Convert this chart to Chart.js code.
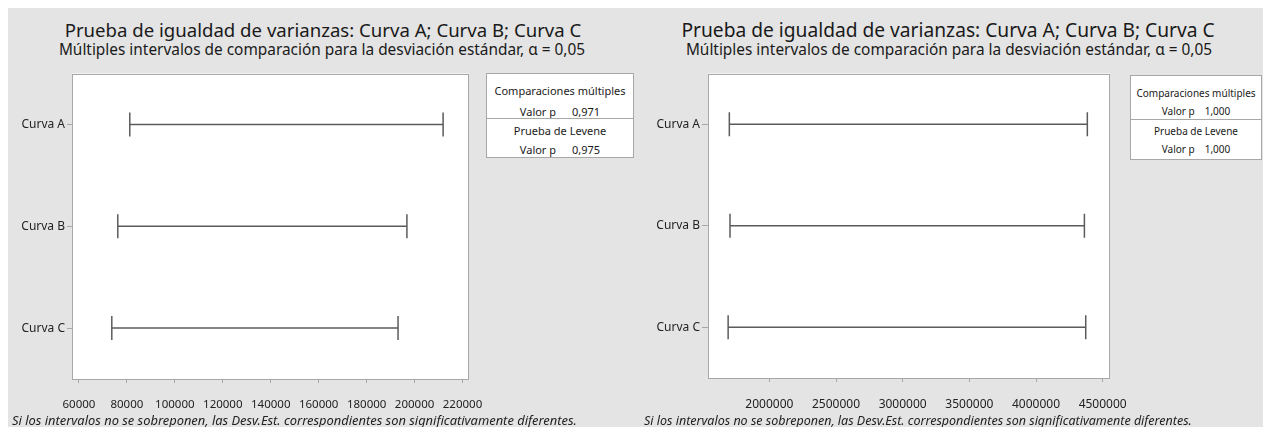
<!DOCTYPE html>
<html>
<head>
<meta charset="utf-8">
<script src="https://cdn.jsdelivr.net/npm/chart.js@4.4.1/dist/chart.umd.min.js"></script>
<style>
  body { margin: 0; background: #fff; font-family: "Noto Sans", sans-serif; color: #1a1a1a; }
  #bg { position: absolute; left: 8px; top: 8px; width: 1255px; height: 419px; background: #e4e4e4; }
  .abs { position: absolute; white-space: nowrap; }
  .title { width: 700px; text-align: center; font-size: 18.6px; line-height: 22px; }
  .subtitle { width: 700px; text-align: center; font-size: 15.4px; line-height: 18px; }
  .pbox { position: absolute; background: #fff; border: 1px solid #a8a8a8; box-sizing: border-box; }
  .pbox .row { position: absolute; left: 0; right: 0; text-align: center; height: 16px; line-height: 16px; }
  .pbox .sep { position: absolute; left: 0; right: 0; height: 0; border-top: 1px solid #a8a8a8; }
  .note { font-style: italic; font-size: 12.9px; line-height: 15px; color: #222; }
</style>
</head>
<body>
<div id="bg"></div>

<div class="abs title" style="left:-27px; top:19px;">Prueba de igualdad de varianzas: Curva A; Curva B; Curva C</div>
<div class="abs subtitle" style="left:-28px; top:41px;">Múltiples intervalos de comparación para la desviación estándar, α = 0,05</div>
<div class="abs title" style="left:598px; top:19px; font-size:19.2px;">Prueba de igualdad de varianzas: Curva A; Curva B; Curva C</div>
<div class="abs subtitle" style="left:599px; top:41px;">Múltiples intervalos de comparación para la desviación estándar, α = 0,05</div>

<canvas id="left" class="abs" width="540" height="360" style="left:8px; top:60px;"></canvas>
<canvas id="right" class="abs" width="560" height="360" style="left:636px; top:60px;"></canvas>

<div class="pbox" style="left:486px; top:73px; width:148px; height:85px; font-size:11px;">
  <div class="row" style="top:9px;">Comparaciones múltiples</div>
  <div class="row" style="top:30px;">Valor p<span style="padding-left:16px;">0,971</span></div>
  <div class="sep" style="top:44px;"></div>
  <div class="row" style="top:49px;">Prueba de Levene</div>
  <div class="row" style="top:68px;">Valor p<span style="padding-left:16px;">0,975</span></div>
</div>

<div class="pbox" style="left:1130px; top:75px; width:132px; height:85px; font-size:10px;">
  <div class="row" style="top:9px;">Comparaciones múltiples</div>
  <div class="row" style="top:27px;">Valor p<span style="padding-left:10px;">1,000</span></div>
  <div class="sep" style="top:43px;"></div>
  <div class="row" style="top:47px;">Prueba de Levene</div>
  <div class="row" style="top:65px;">Valor p<span style="padding-left:10px;">1,000</span></div>
</div>

<div class="abs note" style="left:12px; top:413px;">Si los intervalos no se sobreponen, las Desv.Est. correspondientes son significativamente diferentes.</div>
<div class="abs note" style="left:644px; top:413px; font-size:12.5px;">Si los intervalos no se sobreponen, las Desv.Est. correspondientes son significativamente diferentes.</div>

<script>
const categories = ["Curva A", "Curva B", "Curva C"];

// left chart: confidence intervals for the std. deviation
const leftLower = [81200, 76200, 73700];
const leftUpper = [211900, 196800, 193100];
const leftTicks = [60000, 80000, 100000, 120000, 140000, 160000, 180000, 200000, 220000];

// right chart
const rightLower = [1700000, 1705000, 1691000];
const rightUpper = [4385000, 4363000, 4373000];
const rightTicks = [2000000, 2500000, 3000000, 3500000, 4000000, 4500000];

const lineColor = "#5b5b5b";
const frameColor = "#a8a8a8";

// white plot area with a full box round it
const plotFrame = {
  id: "plotFrame",
  beforeDraw(chart) {
    const { ctx, chartArea: a } = chart;
    ctx.save();
    ctx.fillStyle = "#fff";
    ctx.fillRect(a.left, a.top, a.right - a.left, a.bottom - a.top);
    ctx.restore();
  },
  afterDraw(chart) {
    const { ctx, chartArea: a } = chart;
    ctx.save();
    ctx.strokeStyle = frameColor;
    ctx.lineWidth = 1;
    ctx.strokeRect(Math.round(a.left) + 0.5, Math.round(a.top) + 0.5,
      Math.round(a.right - a.left) - 1, Math.round(a.bottom - a.top) - 1);
    ctx.restore();
  },
};

function makeChart(id, lower, upper, ticks, xMin, xMax, box) {
  const datasets = categories.map((c, i) => ({
    label: c,
    data: [{ x: lower[i], y: c }, { x: upper[i], y: c }],
    borderColor: lineColor,
    borderWidth: 1.5,
    pointStyle: "line",
    pointRadius: 12,
    pointHoverRadius: 12,
    pointRotation: 90,
    pointBorderColor: lineColor,
    pointBorderWidth: 1.5,
  }));

  return new Chart(document.getElementById(id), {
    type: "line",
    data: { datasets },
    plugins: [plotFrame],
    options: {
      responsive: false,
      animation: false,
      layout: { padding: { left: 0, top: box.top, right: box.right, bottom: 0 } },
      plugins: { legend: { display: false }, tooltip: { enabled: false } },
      scales: {
        x: {
          type: "linear",
          min: xMin,
          max: xMax,
          afterBuildTicks: (s) => { s.ticks = ticks.map((v) => ({ value: v })); },
          afterFit: (s) => { s.height = box.xHeight; },
          border: { display: false },
          grid: { drawOnChartArea: false, tickLength: 4, color: frameColor },
          ticks: {
            padding: 15,
            maxRotation: 0,
            color: "#222",
            font: { family: "Noto Sans", size: box.tickFont },
            callback: (v) => String(v),
          },
        },
        y: {
          type: "category",
          labels: categories,
          offset: true,
          afterFit: (s) => { s.width = box.yWidth; },
          border: { display: false },
          grid: { drawOnChartArea: false, tickLength: box.yTick, color: frameColor },
          ticks: { padding: 2, color: "#222", font: { family: "Noto Sans", size: 12 } },
        },
      },
    },
  });
}

makeChart("left", leftLower, leftUpper, leftTicks, 57100, 222700,
  { top: 13, right: 79, xHeight: 41, yWidth: 64, yTick: 5, tickFont: 11.5 });
makeChart("right", rightLower, rightUpper, rightTicks, 1540000, 4555000,
  { top: 13, right: 86, xHeight: 42, yWidth: 72, yTick: 6, tickFont: 12 });
</script>
</body>
</html>
